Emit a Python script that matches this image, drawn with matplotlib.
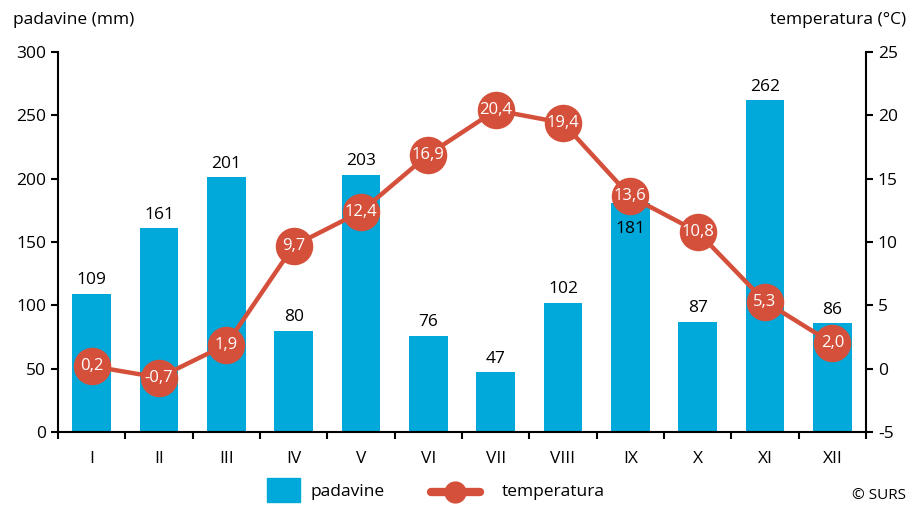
import matplotlib
matplotlib.use('Agg')
import matplotlib.pyplot as plt
from matplotlib.patches import Rectangle
from matplotlib.lines import Line2D

months = ['I', 'II', 'III', 'IV', 'V', 'VI', 'VII', 'VIII', 'IX', 'X', 'XI', 'XII']
padavine = [109, 161, 201, 80, 203, 76, 47, 102, 181, 87, 262, 86]
temperatura = [0.2, -0.7, 1.9, 9.7, 12.4, 16.9, 20.4, 19.4, 13.6, 10.8, 5.3, 2.0]
inside_labels = ['IX']  # bar value printed inside the bar

BLUE = '#00a9d9'
RED = '#d4503a'
FS = 12.5

plt.rcParams['font.family'] = ['Open Sans', 'DejaVu Sans']
plt.rcParams['font.size'] = FS
plt.rcParams['axes.unicode_minus'] = False

fig = plt.figure(figsize=(9.1, 5.05), dpi=100)
W, H = 910, 505
ax = fig.add_axes([58 / W, 73 / H, (866 - 58) / W, (432 - 52) / H])
ax2 = ax.twinx()

x = list(range(len(months)))
ax.bar(x, padavine, width=0.57, color=BLUE, zorder=2)
for xi, v, m in zip(x, padavine, months):
    if m in inside_labels:
        ax.annotate(str(v), (xi, v), xytext=(0, -13), textcoords='offset points',
                    ha='center', va='top', fontsize=FS, color='black')
    else:
        ax.annotate(str(v), (xi, v), xytext=(0, 4), textcoords='offset points',
                    ha='center', va='bottom', fontsize=FS, color='black')

ax.set_ylim(0, 300)
ax.set_xlim(-0.5, 11.5)
ax.set_yticks(range(0, 301, 50))
ax.set_xticks(x)
ax.set_xticklabels(months)
ax.set_xticks([i - 0.5 for i in range(13)], minor=True)
ax.tick_params(axis='x', which='major', length=0, pad=14, labelsize=FS)
ax.tick_params(axis='x', which='minor', length=5, width=1.5, direction='out')
ax.tick_params(axis='y', length=5, width=1.5, direction='out', labelsize=FS)

ax2.plot(x, temperatura, color=RED, linewidth=3.2, marker='o', markersize=27,
         markerfacecolor=RED, markeredgewidth=0, zorder=3)
for xi, t in zip(x, temperatura):
    ax2.text(xi, t, f'{t:.1f}'.replace('.', ','), ha='center', va='center',
             color='white', fontsize=12, zorder=4)
ax2.set_ylim(-5, 25)
ax2.set_yticks(range(-5, 26, 5))
ax2.tick_params(axis='y', length=5, width=1.5, direction='out', labelsize=FS)

for a in (ax, ax2):
    a.spines['top'].set_visible(False)
    for s in ('left', 'right', 'bottom'):
        a.spines[s].set_linewidth(1.5)
ax.spines['right'].set_visible(False)
ax2.spines['left'].set_visible(False)
ax2.spines['bottom'].set_visible(False)

fig.text(13 / W, 1 - 20 / H, 'padavine (mm)', ha='left', va='center', fontsize=FS)
fig.text(906 / W, 1 - 20 / H, 'temperatura (°C)', ha='right', va='center', fontsize=FS)

# legend
fig.add_artist(Rectangle((267 / W, 1 - 502 / H), 33 / W, 24 / H, color=BLUE,
                         transform=fig.transFigure))
fig.text(310 / W, 1 - 492 / H, 'padavine', ha='left', va='center', fontsize=FS)
fig.add_artist(Line2D([431 / W, 480 / W], [1 - 492 / H, 1 - 492 / H], color=RED,
                      linewidth=6, solid_capstyle='round', transform=fig.transFigure))
fig.add_artist(Line2D([455 / W], [1 - 492 / H], color=RED, marker='o', markersize=16,
                      markeredgewidth=0, transform=fig.transFigure))
fig.text(502 / W, 1 - 492 / H, 'temperatura', ha='left', va='center', fontsize=FS)
fig.text(852 / W, 1 - 503 / H, '© SURS', ha='left', va='bottom', fontsize=11)

fig.savefig('out.png', dpi=100)
